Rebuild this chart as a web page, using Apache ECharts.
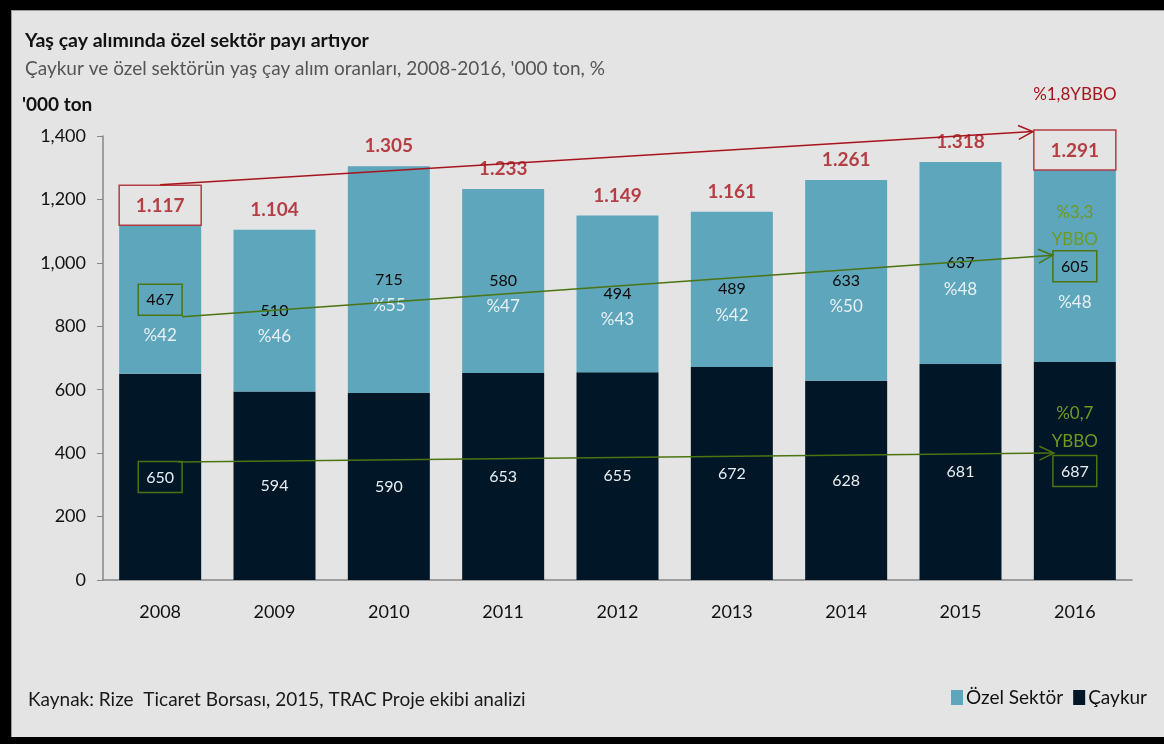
<!DOCTYPE html>
<html>
<head>
<meta charset="utf-8">
<title>Yaş çay alımı</title>
<script src="https://cdn.jsdelivr.net/npm/echarts@6/dist/echarts.min.js"></script>
<style>
  html, body { margin: 0; padding: 0; background: #000; }
  #main {
    position: absolute; left: 11px; top: 10px;
    width: 1153px; height: 727px;
    background: #e4e4e4;
    border-top: 1px solid #9a9a9a; border-left: 1px solid #9a9a9a;
    box-sizing: border-box;
  }
</style>
</head>
<body>
<div id="main"></div>
<script>
// data ('000 ton)
const years = ['2008', '2009', '2010', '2011', '2012', '2013', '2014', '2015', '2016']
const caykur = [650, 594, 590, 653, 655, 672, 628, 681, 687]
const ozel = [467, 510, 715, 580, 494, 489, 633, 637, 605]
const totals = [1117, 1104, 1305, 1233, 1149, 1161, 1261, 1318, 1291]
const ozelPct = [42, 46, 55, 47, 43, 42, 50, 48, 48]
const yTicks = [0, 200, 400, 600, 800, 1000, 1200, 1400]
// compound annual growth texts (YBBO)
const cagrTotal = '%1,8YBBO'
const cagrOzel = ['%3,3', 'YBBO']
const cagrCaykur = ['%0,7', 'YBBO']
const boxed = [0, 8] // first and last year are framed

const RED = '#a8141c'
const GREEN_LINE = '#4c7410'
const GREEN_TEXT = '#6f9a22'
const C_OZEL = '#5da6bc'
const C_CAYKUR = '#011627'
const FONT = 'Lato, "Open Sans", sans-serif'

const dotFmt = v => String(v).replace(/\B(?=(\d{3})+(?!\d))/g, '.')

const chart = echarts.init(document.getElementById('main'))

const ozelData = ozel.map((v, i) => ({
  value: v,
  label: { offset: [0, boxed.includes(i) ? 27 : 13] }
}))

const option = {
  textStyle: { fontFamily: FONT },
  animation: false,
  title: {
    text: 'Yaş çay alımında özel sektör payı artıyor',
    subtext: "Çaykur ve özel sektörün yaş çay alım oranları, 2008-2016, '000 ton, %",
    left: 8,
    top: 15,
    itemGap: 8,
    textStyle: { fontFamily: FONT, fontSize: 19.5, fontWeight: 'bold', color: '#111' },
    subtextStyle: { fontFamily: FONT, fontSize: 19, color: '#555' }
  },
  legend: {
    data: ['Özel Sektör', 'Çaykur'],
    left: 934,
    top: 672,
    itemWidth: 12,
    itemHeight: 15,
    itemGap: 10,
    icon: 'rect',
    textStyle: { fontFamily: FONT, fontSize: 19, color: '#111', padding: [0, 0, 0, -2] }
  },
  grid: { left: 91, right: 32, top: 125, bottom: 157 },
  xAxis: {
    type: 'category',
    data: years,
    axisLine: { lineStyle: { color: '#868686', width: 1.5 } },
    axisTick: { length: 6, lineStyle: { color: '#868686' } },
    axisLabel: { fontSize: 18, color: '#111', margin: 23 }
  },
  yAxis: {
    type: 'value',
    min: 0,
    max: yTicks[yTicks.length - 1],
    interval: 200,
    axisLine: { show: true, lineStyle: { color: '#868686', width: 1.5 } },
    axisTick: { show: true, length: 6, lineStyle: { color: '#868686' } },
    splitLine: { show: false },
    axisLabel: {
      fontSize: 18,
      color: '#111',
      margin: 17,
      formatter: v => v.toLocaleString('en-US')
    }
  },
  series: [
    {
      name: 'Çaykur',
      type: 'bar',
      stack: 'alim',
      barWidth: 82,
      data: caykur,
      itemStyle: { color: C_CAYKUR },
      label: {
        show: true,
        position: 'inside',
        formatter: p => boxed.includes(p.dataIndex) ? '{b|' + p.value + '}' : '{w|' + p.value + '}',
        rich: {
          w: { fontSize: 16, color: '#e8eef2' },
          b: {
            fontSize: 16, color: '#e8eef2', borderColor: GREEN_LINE, borderWidth: 1.5,
            padding: [8, 8, 7, 8]
          }
        }
      }
    },
    {
      name: 'Özel Sektör',
      type: 'bar',
      stack: 'alim',
      barWidth: 82,
      data: ozelData,
      itemStyle: { color: C_OZEL },
      label: {
        show: true,
        position: 'inside',
        formatter: p => boxed.includes(p.dataIndex)
          ? '{vb|' + p.value + '}\n{pb|%' + ozelPct[p.dataIndex] + '}'
          : '{v|' + p.value + '}\n{p|%' + ozelPct[p.dataIndex] + '}',
        rich: {
          v: { fontSize: 16, color: '#0a0a0a', lineHeight: 26 },
          p: { fontSize: 17, color: '#e8f0f4', lineHeight: 26 },
          vb: {
            fontSize: 16, color: '#0a0a0a', lineHeight: 18,
            borderColor: GREEN_LINE, borderWidth: 1.5, padding: [8, 8, 7, 8]
          },
          pb: { fontSize: 17, color: '#e8f0f4', lineHeight: 54 }
        }
      }
    },
    {
      name: 'Toplam',
      type: 'scatter',
      data: totals.map((v, i) => ({
        value: v,
        label: boxed.includes(i) ? { borderColor: RED, borderWidth: 1.5 } : {}
      })),
      symbolSize: 1,
      itemStyle: { color: 'rgba(0,0,0,0)' },
      silent: true,
      z: 5,
      label: {
        show: true,
        position: 'top',
        distance: 0,
        formatter: p => dotFmt(p.value),
        color: RED,
        fontWeight: 'bold',
        fontSize: 19,
        width: 82,
        align: 'center',
        padding: [11, 0, 10, 0]
      }
    }
  ]
}

chart.setOption(option)

// annotations: growth arrows and texts, placed from the axis scales
function arrowHead (tip, from, len, spread, color) {
  const a = Math.atan2(tip[1] - from[1], tip[0] - from[0])
  const p1 = [tip[0] - len * Math.cos(a - spread), tip[1] - len * Math.sin(a - spread)]
  const p2 = [tip[0] - len * Math.cos(a + spread), tip[1] - len * Math.sin(a + spread)]
  return {
    type: 'polyline',
    shape: { points: [p1, tip, p2] },
    style: { stroke: color, fill: null, lineWidth: 1.5 },
    z: 10
  }
}
function line (a, b, color) {
  return {
    type: 'line',
    shape: { x1: a[0], y1: a[1], x2: b[0], y2: b[1] },
    style: { stroke: color, lineWidth: 1.5 },
    z: 10
  }
}
function text (str, x, y, color, size) {
  return {
    type: 'text',
    style: {
      text: str, x: x, y: y, fill: color,
      font: size + 'px ' + FONT,
      textAlign: 'center', align: 'center',
      textVerticalAlign: 'middle', verticalAlign: 'middle'
    },
    z: 10
  }
}

function buildAnnotations () {
  const px = (i, v) => chart.convertToPixel({ xAxisIndex: 0, yAxisIndex: 0 }, [years[i], v])
  const last = years.length - 1
  const boxH = 41
  const halfBar = 41

  // total growth (red)
  const t0 = px(0, totals[0])
  const t8 = px(last, totals[last])
  const rs = [t0[0], t0[1] - boxH]
  const re = [t8[0] - halfBar - 1, t8[1] - boxH + 2]

  // özel sektör growth (green, upper)
  const o0 = px(0, caykur[0] + ozel[0] / 2)
  const o8 = px(last, caykur[last] + ozel[last] / 2)
  const os = [o0[0] + 22, o0[1] + 17]
  const oe = [o8[0] - 22, o8[1] - 11]

  // çaykur growth (green, lower)
  const c0 = px(0, caykur[0] / 2)
  const c8 = px(last, caykur[last] / 2)
  const cs = [c0[0] + 18, c0[1] - 15]
  const ce = [c8[0] - 21, c8[1] - 18]

  const elems = [
    line(rs, re, RED), arrowHead(re, rs, 16, 0.45, RED),
    line(os, oe, GREEN_LINE), arrowHead(oe, os, 16, 0.45, GREEN_LINE),
    line(cs, ce, GREEN_LINE), arrowHead(ce, cs, 16, 0.45, GREEN_LINE),
    text(cagrTotal, t8[0], t8[1] - boxH - 35, RED, 17),
    text(cagrOzel[0], o8[0], o8[1] - 54, GREEN_TEXT, 17),
    text(cagrOzel[1], o8[0], o8[1] - 27, GREEN_TEXT, 17),
    text(cagrCaykur[0], c8[0], c8[1] - 58, GREEN_TEXT, 17),
    text(cagrCaykur[1], c8[0], c8[1] - 30, GREEN_TEXT, 17),
    {
      type: 'text',
      style: { text: "'000 ton", x: 10, y: 94, fill: '#111', font: 'bold 19px ' + FONT, verticalAlign: 'middle', textVerticalAlign: 'middle' }
    },
    {
      type: 'text',
      style: {
        text: 'Kaynak: Rize  Ticaret Borsası, 2015, TRAC Proje ekibi analizi',
        x: 16, y: 689, fill: '#1a1a1a', font: '19px ' + FONT,
        verticalAlign: 'middle', textVerticalAlign: 'middle'
      }
    }
  ]
  chart.setOption({ graphic: elems })
}

buildAnnotations()
</script>
</body>
</html>
